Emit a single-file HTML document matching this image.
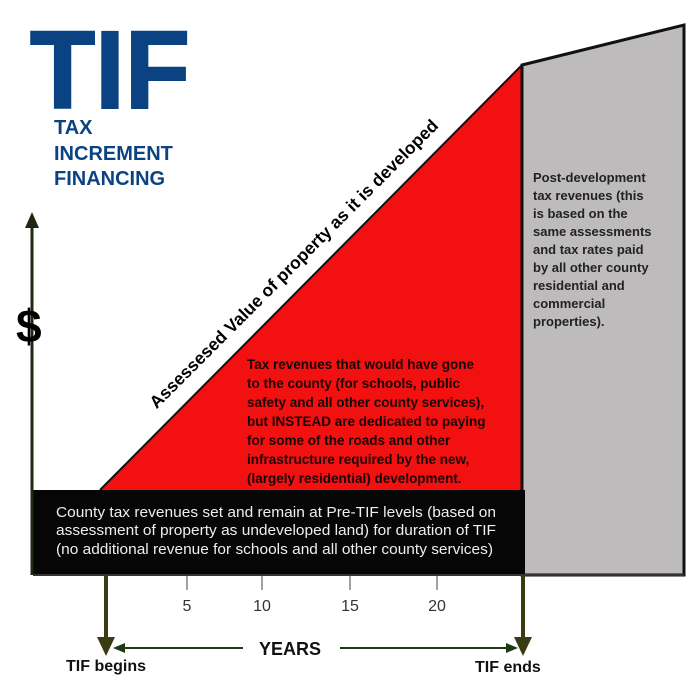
<!DOCTYPE html><html><head><style>body{margin:0;background:#fff;width:700px;height:693px;overflow:hidden;font-family:"Liberation Sans",sans-serif}</style></head><body>
<svg width="700" height="693" xmlns="http://www.w3.org/2000/svg" font-family="Liberation Sans, sans-serif">
<polygon points="100,490 522,65 522,490" fill="#f21010"/>
<polygon points="522,65 684,25 684,575 522,575" fill="#bdbbbc" stroke="#111" stroke-width="3"/>
<line x1="100" y1="490" x2="522" y2="65" stroke="#111" stroke-width="2"/>
<rect x="33" y="490" width="492" height="85" fill="#060606"/>
<line x1="33" y1="575" x2="684" y2="575" stroke="#333" stroke-width="2"/>
<text x="30" y="108" font-size="110" font-weight="bold" fill="#0b4382" stroke="#0b4382" stroke-width="2" textLength="160" lengthAdjust="spacingAndGlyphs">TIF</text>
<g font-size="20" font-weight="bold" fill="#0b4382"><text x="54" y="134">TAX</text><text x="54" y="160">INCREMENT</text><text x="54" y="185">FINANCING</text></g>
<line x1="32" y1="575" x2="32" y2="225" stroke="#1c2a14" stroke-width="3"/>
<polygon points="25,228 32,212 39,228" fill="#1c2a14"/>
<text x="16" y="342" font-size="46" font-weight="bold" fill="#000">$</text>
<text transform="translate(298,268) rotate(-45)" text-anchor="middle" font-size="17.5" font-weight="bold" fill="#000">Assessesed Value of property as it is developed</text>
<g font-size="13.5" font-weight="bold" fill="#1a0505"><text x="247" y="369">Tax revenues that would have gone</text><text x="247" y="388">to the county (for schools, public</text><text x="247" y="407">safety and all other county services),</text><text x="247" y="426">but INSTEAD are dedicated to paying</text><text x="247" y="445">for some of the roads and other</text><text x="247" y="464">infrastructure required by the new,</text><text x="247" y="483">(largely residential) development.</text></g>
<g font-size="13" font-weight="bold" fill="#222"><text x="533" y="182">Post-development</text><text x="533" y="200">tax revenues (this</text><text x="533" y="218">is based on the</text><text x="533" y="236">same assessments</text><text x="533" y="254">and tax rates paid</text><text x="533" y="272">by all other county</text><text x="533" y="290">residential and</text><text x="533" y="308">commercial</text><text x="533" y="326">properties).</text></g>
<g font-size="14.5" fill="#eee"><text x="56" y="517" textLength="440" lengthAdjust="spacingAndGlyphs">County tax revenues set and remain at Pre-TIF levels (based on</text><text x="56" y="535" textLength="440" lengthAdjust="spacingAndGlyphs">assessment of property as undeveloped land) for duration of TIF</text><text x="56" y="554" textLength="437" lengthAdjust="spacingAndGlyphs">(no additional revenue for schools and all other county services)</text></g>
<g stroke="#444" stroke-width="1"><line x1="187" y1="575" x2="187" y2="590"/><line x1="262" y1="575" x2="262" y2="590"/><line x1="350" y1="575" x2="350" y2="590"/><line x1="437" y1="575" x2="437" y2="590"/></g>
<g font-size="16" fill="#333" text-anchor="middle"><text x="187" y="611">5</text><text x="262" y="611">10</text><text x="350" y="611">15</text><text x="437" y="611">20</text></g>
<g stroke="#3a3a14" stroke-width="4"><line x1="106" y1="575" x2="106" y2="640"/><line x1="523" y1="575" x2="523" y2="640"/></g>
<polygon points="97,637 115,637 106,656" fill="#3a3a14"/><polygon points="514,637 532,637 523,656" fill="#3a3a14"/>
<g stroke="#1c3a14" stroke-width="2"><line x1="122" y1="648" x2="243" y2="648"/><line x1="340" y1="648" x2="508" y2="648"/></g>
<polygon points="113,648 125,643 125,653" fill="#1c3a14"/><polygon points="518,648 506,643 506,653" fill="#1c3a14"/>
<text x="290" y="655" font-size="18" font-weight="bold" fill="#111" text-anchor="middle">YEARS</text>
<text x="66" y="671" font-size="16" font-weight="bold" fill="#111">TIF begins</text>
<text x="475" y="672" font-size="16" font-weight="bold" fill="#111">TIF ends</text>
</svg></body></html>
